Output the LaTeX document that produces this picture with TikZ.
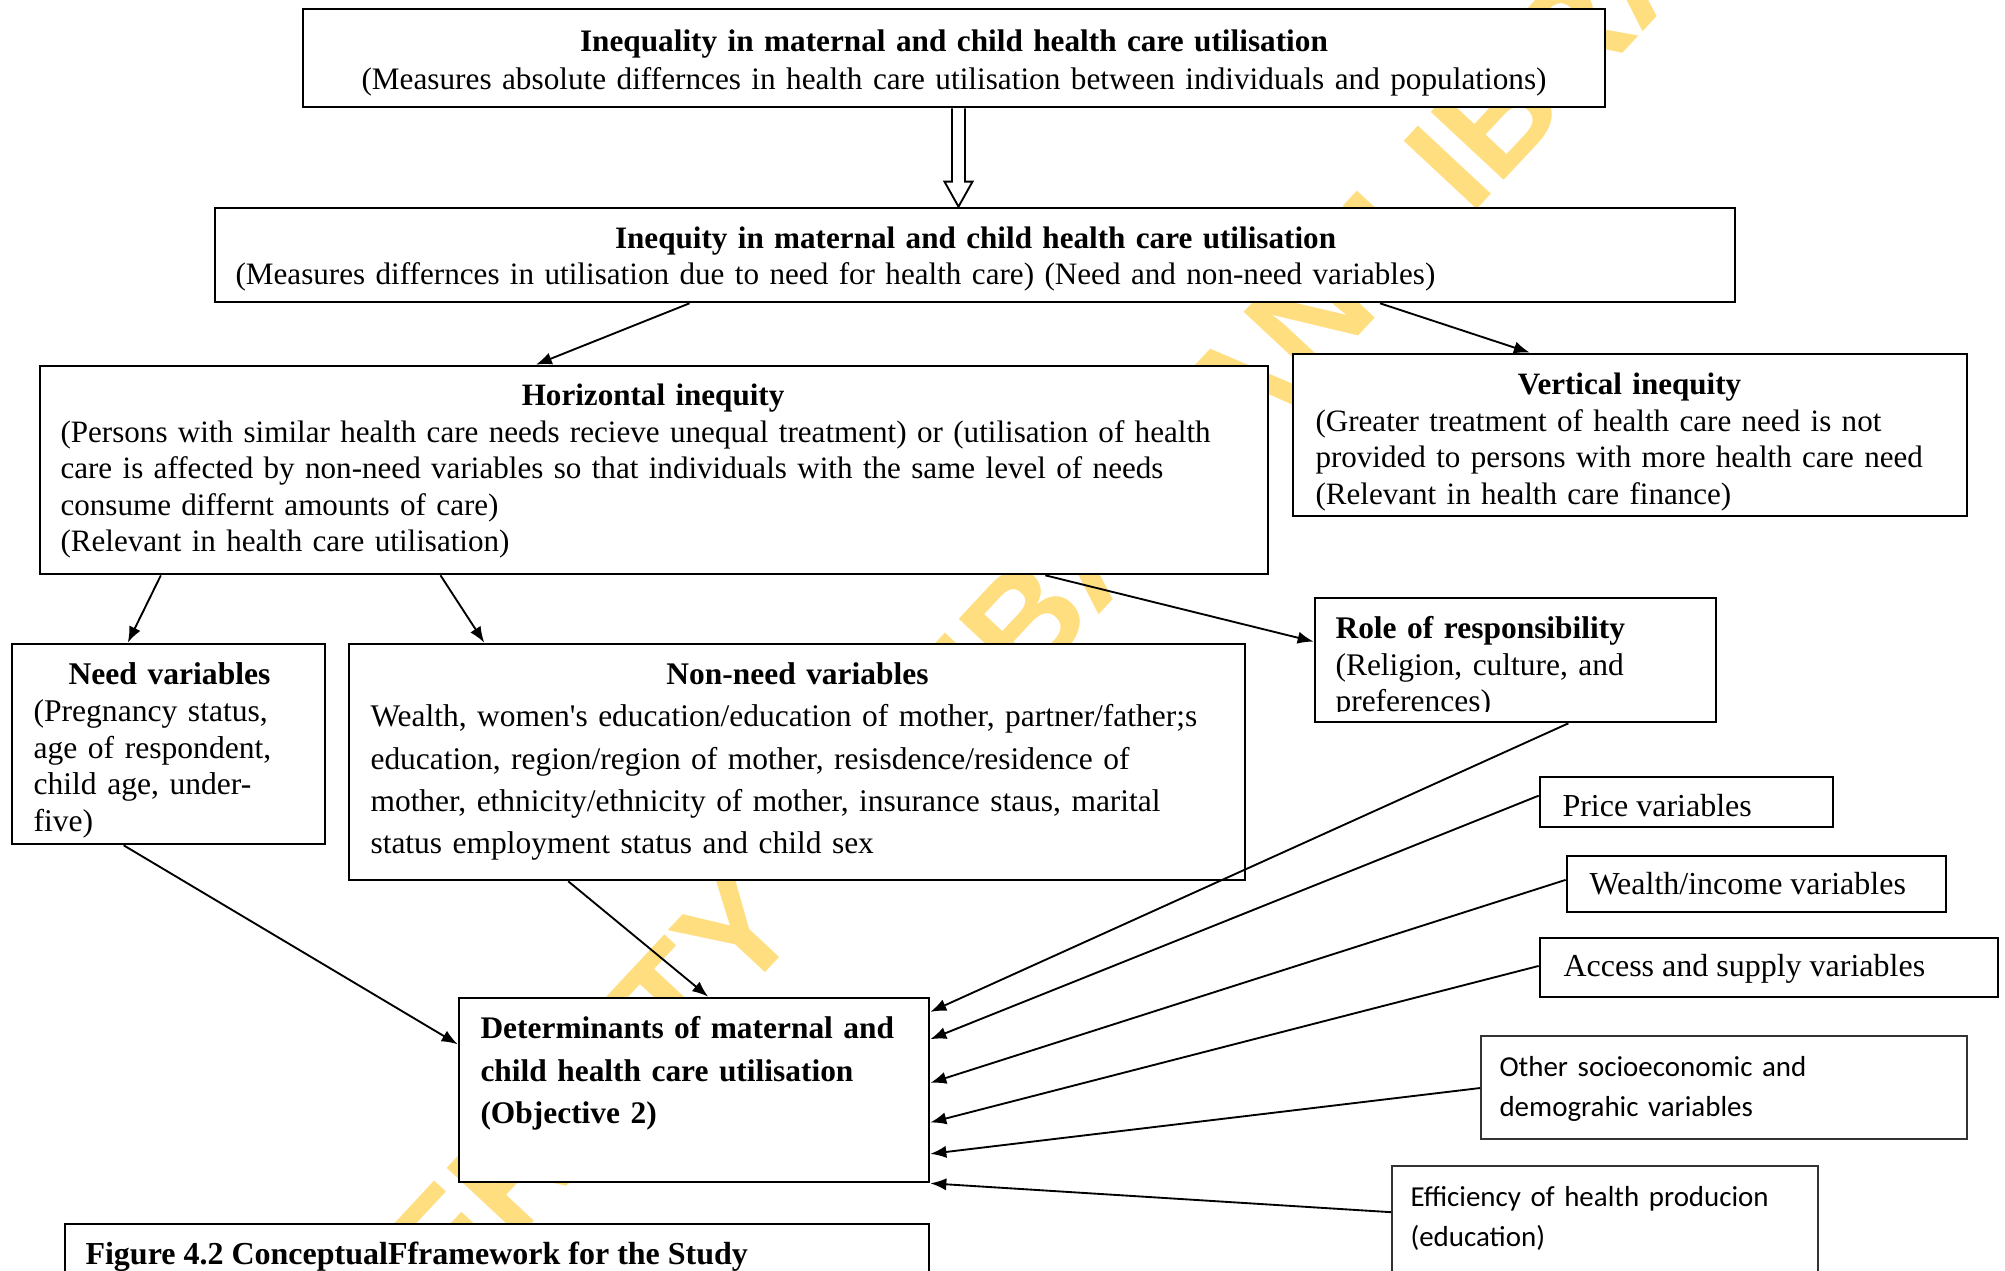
\documentclass[tikz,border=0pt]{standalone}
\usepackage{fontspec}
\setmainfont{Liberation Serif}
\newfontfamily\calibfont{Carlito}
\newfontfamily\wmfont{Liberation Sans}
\usetikzlibrary{calc,fit,arrows.meta}
\definecolor{wmyellow}{RGB}{255,222,128}
\begin{document}
\begin{tikzpicture}[x=0.375pt,y=-0.375pt,
  box/.style={draw=black, line width=1pt, fill=white, inner sep=0pt},
  thinbox/.style={draw=black!80, line width=0.6pt, fill=white, inner sep=0pt},
  txt/.style={inner sep=0pt, anchor=base west, yshift=-0.6pt},
  conn/.style={line width=0.7pt, -{Latex[length=6pt,width=4.6pt]}},
  wmark/.style={inner sep=0pt, rotate=47, text=wmyellow, font=\wmfont\bfseries\fontsize{54.4}{60}\selectfont},
  ]
\useasboundingbox (0,0) rectangle (2005,1271);
\clip (0,0) rectangle (2005,1271);
\fill[white] (0,0) rectangle (2005,1271);

% watermark
\node[wmark, anchor=base east] (wm1) at (739,1001) {UNIVERSIT};
\node[wmark, anchor=base west] (wm2) at (739,1001) {Y OF IBADAN LIBRARY};

% boxes
\node[box, fit={(303,9) (1605,107)}] (A) {};
\node[box, fit={(215,208) (1735,302)}] (B) {};
\node[box, fit={(40,366) (1268,574)}] (C) {};
\node[box, fit={(1293,354) (1967,516)}] (D) {};
\node[box, fit={(12,644) (325,844)}] (E) {};
\node[box, fit={(349,644) (1245,880)}] (F) {};
\node[box, fit={(1315,598) (1716,722)}] (G) {};
\node[box, fit={(459,998) (929,1182)}] (H) {};
\node[box, fit={(1540,777) (1833,827)}] (P) {};
\node[box, fit={(1567,856) (1946,912)}] (W) {};
\node[box, fit={(1540,938) (1998,997)}] (S) {};
\node[thinbox, fit={(1481,1036) (1967,1139)}] (O) {};
\node[thinbox, fit={(1392,1166) (1818,1320)}] (Q) {};
\node[box, fit={(65,1224) (929,1320)}] (K) {};

% texts
\node[txt, anchor=base, text width=480pt, font=\fontsize{11.72}{14.25}\selectfont] (At) at (954,50)
  {\centering\textbf{Inequality in maternal and child health care utilisation}\\(Measures absolute differnces in health care utilisation between individuals and populations)\par};
\node[txt, text width=555pt, font=\fontsize{11.68}{13.4}\selectfont] (Bt) at (235,247)
  {\makebox[\linewidth]{\bfseries Inequity in maternal and child health care utilisation}\\(Measures differnces in utilisation due to need for health care) (Need and non-need variables)};
\node[txt, text width=444.4pt, font=\fontsize{11.66}{13.7}\selectfont] (Ct) at (60,404)
  {\makebox[\linewidth]{\bfseries Horizontal inequity}\\(Persons with similar health care needs recieve unequal treatment) or (utilisation of health\\care is affected by non-need variables so that individuals with the same level of needs\\consume differnt amounts of care)\\(Relevant in health care utilisation)};
\node[txt, text width=235.5pt, font=\fontsize{11.65}{13.75}\selectfont] (Dt) at (1315,393)
  {\makebox[\linewidth]{\bfseries Vertical inequity}\\(Greater treatment of health care need is not\\provided to persons with more health care need\\(Relevant in health care finance)};
\node[txt, text width=102pt, font=\fontsize{11.85}{13.8}\selectfont] (Et) at (33,683)
  {\makebox[\linewidth]{\bfseries Need variables}\\(Pregnancy status,\\age of respondent,\\child age, under-\\five)};
\node[txt, text width=320.25pt, font=\fontsize{11.8}{15.85}\selectfont] (Ft) at (370,683)
  {\makebox[\linewidth]{\bfseries Non-need variables}\\Wealth, women\textquotesingle s education/education of mother, partner/father;s\\education, region/region of mother, resisdence/residence of\\mother, ethnicity/ethnicity of mother, insurance staus, marital\\status employment status and child sex};
\begin{scope}
\clip (G.north west) rectangle ($(G.south east)+(0,-12)$);
\node[txt, text width=140pt, font=\fontsize{11.8}{13.75}\selectfont] (Gt) at (1335,637)
  {\textbf{Role of responsibility}\\(Religion, culture, and\\preferences)};
\end{scope}
\node[txt, text width=170pt, font=\fontsize{11.78}{16}\selectfont\bfseries] (Ht) at (480,1037)
  {Determinants of maternal and\\child health care utilisation\\(Objective 2)};
\node[txt, font=\fontsize{12}{14}\selectfont] (Pt) at (1562,815) {Price variables};
\node[txt, font=\fontsize{12}{14}\selectfont] (Wt) at (1589,893) {Wealth/income variables};
\node[txt, font=\fontsize{12}{14}\selectfont] (St) at (1563,975) {Access and supply variables};
\node[txt, text width=170pt, font=\calibfont\fontsize{10.85}{15}\selectfont] (Ot) at (1499,1075)
  {Other socioeconomic and\\demograhic variables};
\node[txt, text width=170pt, font=\calibfont\fontsize{10.85}{15}\selectfont] (Qt) at (1410,1205)
  {Efficiency of health producion\\(education)};
\node[txt, font=\fontsize{12}{14}\selectfont\bfseries] (Kt) at (85,1263) {Figure 4.2 ConceptualFframework for the Study};

% hollow arrow A -> B
\coordinate (as) at ($(A.south)+(4.5,0)$);
\coordinate (ap) at (as |- B.north);
\draw[line width=0.7pt, fill=white] ($(as)+(-6.5,0)$) -- ($(ap)+(-6.5,-25)$) -- ($(ap)+(-14,-25)$) -- (ap)
  -- ($(ap)+(14,-25)$) -- ($(ap)+(6.5,-25)$) -- ($(as)+(6.5,0)$);

% connectors
\draw[conn] ($(B.south west)!0.3125!(B.south east)$) -- ($(C.north west)!0.404!(C.north east)$);
\draw[conn] ($(B.south west)!0.766!(B.south east)$) -- ($(D.north west)!0.352!(D.north east)$);
\draw[conn] ($(C.south west)!0.0993!(C.south east)$) -- ($(E.north west)!0.371!(E.north east)$);
\draw[conn] ($(C.south west)!0.3265!(C.south east)$) -- ($(F.north west)!0.152!(F.north east)$);
\draw[conn] ($(C.south west)!0.818!(C.south east)$) -- ($(G.north west)!0.355!(G.south west)$);
\draw[conn] ($(E.south west)!0.358!(E.south east)$) -- ($(H.north west)!0.255!(H.south west)$);
\draw[conn] ($(F.south west)!0.2455!(F.south east)$) -- ($(H.north west)!0.53!(H.north east)$);
\draw[conn] ($(G.south west)!0.631!(G.south east)$) -- ($(H.north east)!0.0815!(H.south east)$);
\draw[conn] ($(P.north west)!0.38!(P.south west)$) -- ($(H.north east)!0.228!(H.south east)$);
\draw[conn] ($(W.north west)!0.43!(W.south west)$) -- ($(H.north east)!0.462!(H.south east)$);
\draw[conn] ($(S.north west)!0.475!(S.south west)$) -- ($(H.north east)!0.674!(H.south east)$);
\draw[conn] ($(O.north west)!0.505!(O.south west)$) -- ($(H.north east)!0.842!(H.south east)$);
\draw[conn] ($(Q.north west)+(0,47)$) -- ($(H.north east)!1!(H.south east)$);
\end{tikzpicture}
\end{document}
